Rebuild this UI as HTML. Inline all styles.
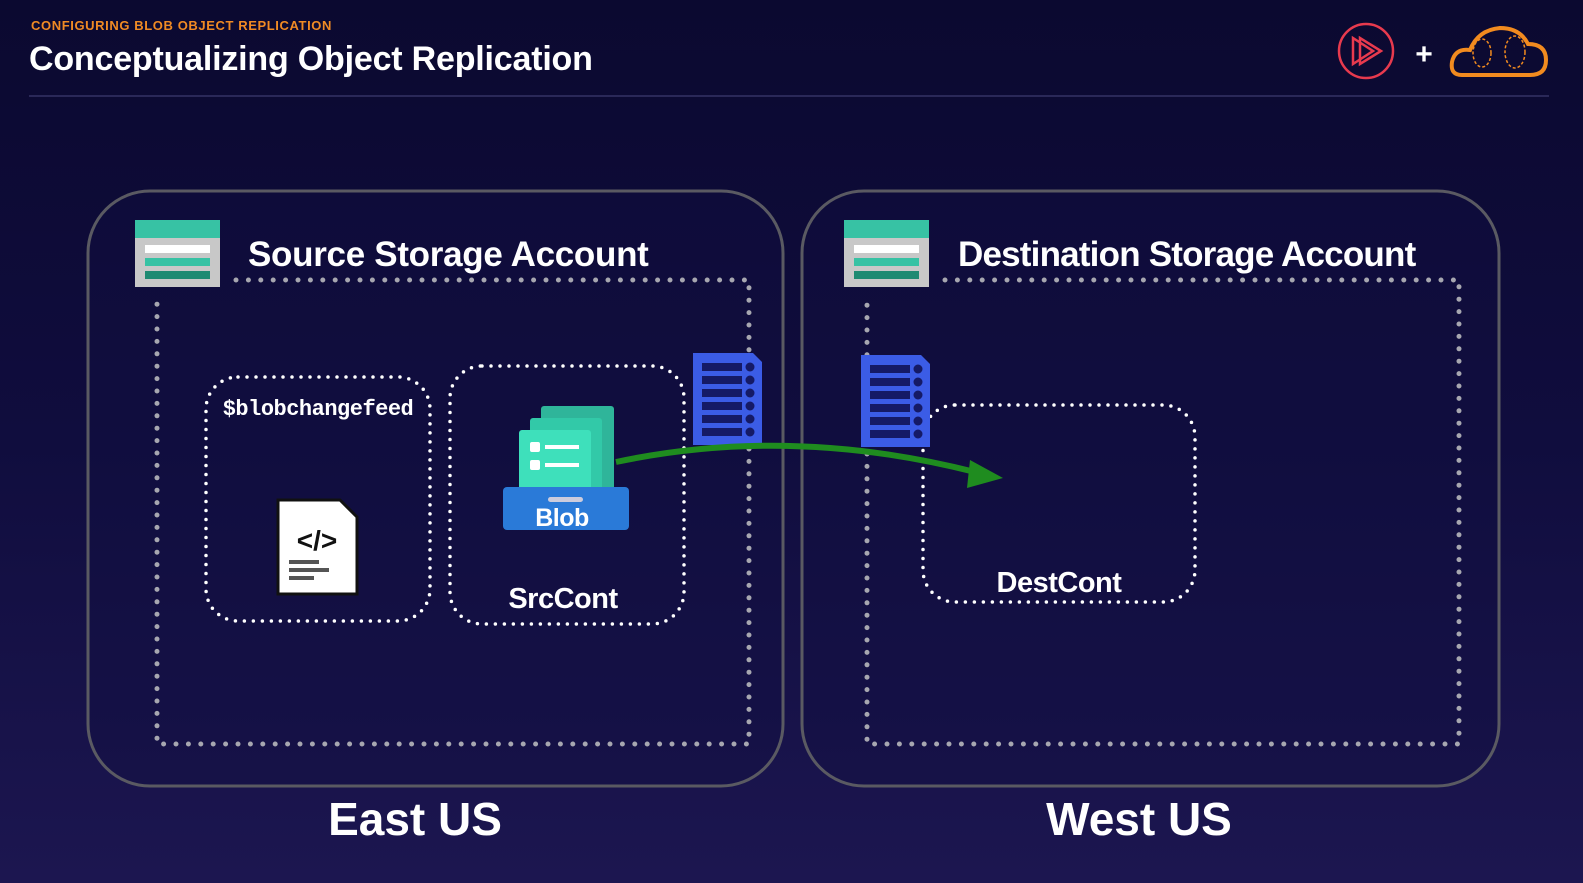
<!DOCTYPE html>
<html><head><meta charset="utf-8"><style>
body{margin:0;width:1583px;height:883px;overflow:hidden;background:linear-gradient(180deg,#0b0930 0%,#100d3e 50%,#1c1650 100%);font-family:"Liberation Sans",sans-serif}
</style></head><body>
<svg width="1583" height="883" viewBox="0 0 1583 883" xmlns="http://www.w3.org/2000/svg" style="position:absolute;left:0;top:0">
<text x="31" y="30" fill="#f08a24" font-size="13" font-weight="bold" letter-spacing="0.6">CONFIGURING BLOB OBJECT REPLICATION</text>
<text x="29" y="70" fill="#fff" font-size="34" font-weight="bold" letter-spacing="-0.2">Conceptualizing Object Replication</text>
<line x1="29" y1="96" x2="1549" y2="96" stroke="#2a2858" stroke-width="2"/>
<!-- logos -->
<circle cx="1366" cy="51" r="27" fill="none" stroke="#e83a4e" stroke-width="2.5"/>
<path d="M1353 38 L1353 64 L1373 51 Z M1360 38 L1360 64 L1381 51 Z" fill="none" stroke="#e83a4e" stroke-width="2.5"/>
<text x="1424" y="64" fill="#fff" font-size="30" font-weight="bold" text-anchor="middle">+</text>
<path d="M1462 75 Q1450 75 1452 62 Q1455 48 1470 50 Q1478 30 1500 28 Q1520 28 1528 44 Q1546 44 1546 60 Q1546 75 1530 75 Z" fill="none" stroke="#f28b1f" stroke-width="4"/>
<ellipse cx="1482" cy="53" rx="9" ry="14" fill="none" stroke="#f28b1f" stroke-width="1.5" stroke-dasharray="3 2"/>
<ellipse cx="1515" cy="52" rx="10" ry="16" fill="none" stroke="#f28b1f" stroke-width="1.5" stroke-dasharray="3 2"/>
<!-- big boxes -->
<rect x="88" y="191" width="695" height="595" rx="62" fill="#120f40" fill-opacity="0.4" stroke="#5a5a62" stroke-width="3"/>
<rect x="802" y="191" width="697" height="595" rx="62" fill="#120f40" fill-opacity="0.4" stroke="#5a5a62" stroke-width="3"/>
<g fill="none" stroke="#a7a7b0" stroke-width="5" stroke-linecap="round" stroke-dasharray="0 12.4">
<path d="M236 280 H749 V744 H157 V298"/>
<path d="M945 280 H1459 V744 H867 V298"/>
</g>
<g fill="none" stroke="#fff" stroke-width="3.5" stroke-linecap="round" stroke-dasharray="0 9">
<rect x="206" y="377" width="224" height="244" rx="32"/>
<rect x="450" y="366" width="234" height="258" rx="32"/>
<rect x="923" y="405" width="272" height="197" rx="32"/>
</g>
<!-- storage icons -->
<g>
<rect x="135" y="220" width="85" height="67" fill="#c8c8c8"/><rect x="135" y="220" width="85" height="18" fill="#37c2a4"/>
<rect x="145" y="245" width="65" height="8" fill="#fff"/><rect x="145" y="258" width="65" height="8" fill="#37c2a4"/><rect x="145" y="271" width="65" height="8" fill="#1e8a72"/>
<rect x="844" y="220" width="85" height="67" fill="#c8c8c8"/><rect x="844" y="220" width="85" height="18" fill="#37c2a4"/>
<rect x="854" y="245" width="65" height="8" fill="#fff"/><rect x="854" y="258" width="65" height="8" fill="#37c2a4"/><rect x="854" y="271" width="65" height="8" fill="#1e8a72"/>
</g>
<text x="248" y="266" fill="#fff" font-size="35" font-weight="bold" letter-spacing="-0.3">Source Storage Account</text>
<text x="958" y="266" fill="#fff" font-size="35" font-weight="bold" letter-spacing="-0.8">Destination Storage Account</text>
<text x="318" y="415" fill="#fff" font-size="22" font-weight="bold" font-family="Liberation Mono" text-anchor="middle" letter-spacing="-0.5">$blobchangefeed</text>
<!-- code file -->
<path d="M278 500 H340 L357 517 V594 H278 Z" fill="#fff" stroke="#111" stroke-width="3"/>
<text x="317" y="550" font-size="28" font-weight="bold" text-anchor="middle" fill="#111">&lt;/&gt;</text>
<rect x="289" y="560" width="30" height="4" fill="#555"/><rect x="289" y="568" width="40" height="4" fill="#555"/><rect x="289" y="576" width="25" height="4" fill="#555"/>
<!-- blob icon -->
<rect x="541" y="406" width="73" height="88" rx="3" fill="#2fb59a"/>
<rect x="530" y="418" width="72" height="80" rx="3" fill="#32c9a8"/>
<rect x="519" y="430" width="72" height="70" rx="3" fill="#3ee0bb"/>
<rect x="530" y="442" width="10" height="10" rx="2" fill="#fff"/><rect x="545" y="445" width="34" height="4" fill="#fff"/>
<rect x="530" y="460" width="10" height="10" rx="2" fill="#fff"/><rect x="545" y="463" width="34" height="4" fill="#fff"/>
<rect x="503" y="487" width="126" height="43" rx="4" fill="#2a7ad8"/>
<rect x="548" y="497" width="35" height="5" rx="2.5" fill="#ccd"/>
<text x="562" y="526" fill="#fff" font-size="25" font-weight="bold" text-anchor="middle" letter-spacing="-0.5">Blob</text>
<text x="563" y="608" fill="#fff" font-size="29" font-weight="bold" text-anchor="middle" letter-spacing="-0.5">SrcCont</text>
<text x="1059" y="592" fill="#fff" font-size="29" font-weight="bold" text-anchor="middle" letter-spacing="-0.5">DestCont</text>
<!-- policy docs -->
<g id="d">
<path d="M693 353 H753 L762 362 V445 H693 Z" fill="#3b5ce6"/>
<g fill="#151a66"><rect x="702" y="363" width="40" height="8"/><rect x="702" y="376" width="40" height="8"/><rect x="702" y="389" width="40" height="8"/><rect x="702" y="402" width="40" height="8"/><rect x="702" y="415" width="40" height="8"/><rect x="702" y="428" width="40" height="8"/>
<circle cx="750" cy="367" r="4.5"/><circle cx="750" cy="380" r="4.5"/><circle cx="750" cy="393" r="4.5"/><circle cx="750" cy="406" r="4.5"/><circle cx="750" cy="419" r="4.5"/><circle cx="750" cy="432" r="4.5"/></g>
</g>
<use href="#d" x="168" y="2"/>
<!-- arrow -->
<path d="M616 462 Q790 425 975 472" fill="none" stroke="#1f8c1f" stroke-width="6"/>
<path d="M1003 478 L970 460 L967 488 Z" fill="#1f8c1f"/>
<text x="415" y="835" fill="#fff" font-size="46" font-weight="bold" text-anchor="middle">East US</text>
<text x="1139" y="835" fill="#fff" font-size="46" font-weight="bold" text-anchor="middle">West US</text>
</svg>
</body></html>
